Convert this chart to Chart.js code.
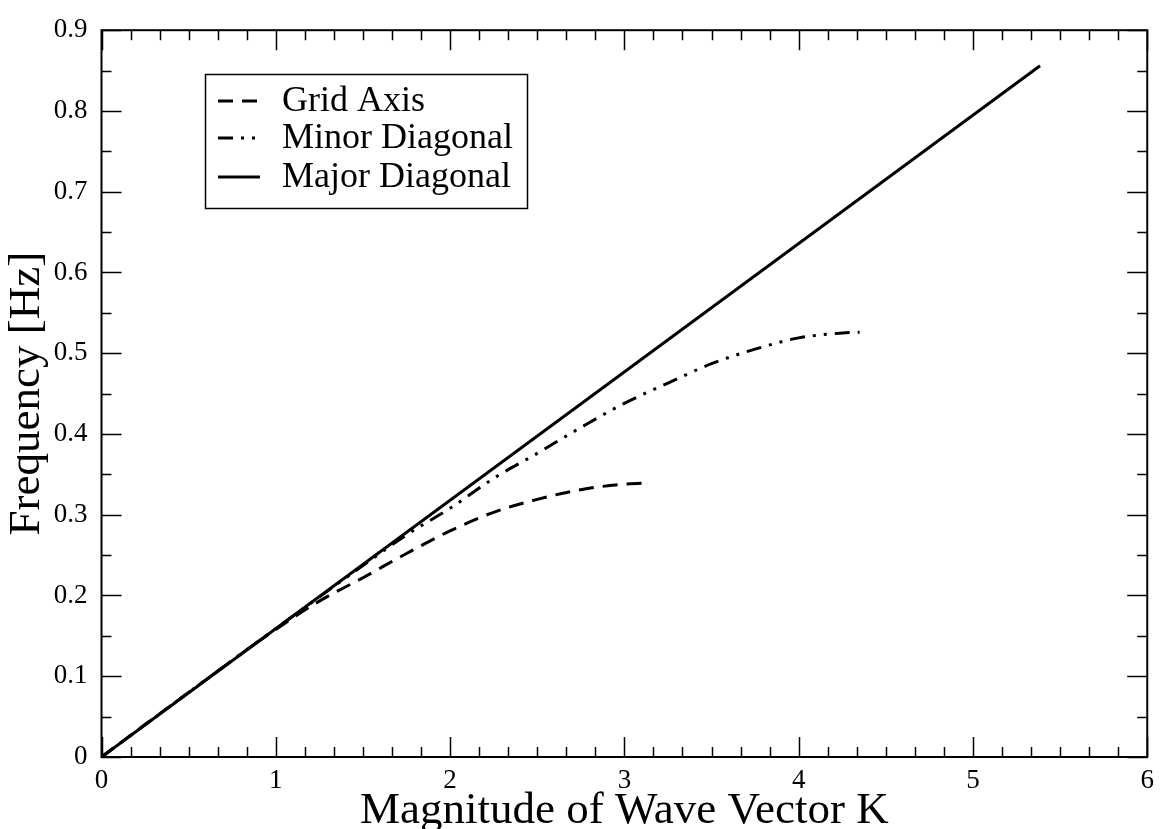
<!DOCTYPE html>
<html>
<head>
<meta charset="utf-8">
<script src="https://cdn.jsdelivr.net/npm/chart.js@4.4.1/dist/chart.umd.min.js"></script>
<style>
  html, body { margin: 0; padding: 0; background: #fff; }
  #wrap { width: 1162px; height: 829px; }
</style>
</head>
<body>
<div id="wrap"><canvas id="dispersion" width="1162" height="829"></canvas></div>
<script>
// values
const gridK  = [0, 0.5, 1.0, 1.25, 1.5, 1.75, 2.0, 2.25, 2.5, 2.75, 3.0, 3.11];
const gridF  = [0, 0.080, 0.158, 0.193, 0.222, 0.252, 0.280, 0.303, 0.319, 0.331, 0.338, 0.339];

const minorK = [0, 0.5, 1.0, 1.5, 1.75, 2.0, 2.25, 2.5, 2.75, 3.0, 3.25, 3.5, 3.75, 4.0, 4.25, 4.35];
const minorF = [0, 0.080, 0.159, 0.237, 0.275, 0.308, 0.345, 0.376, 0.408, 0.438, 0.463, 0.487, 0.505, 0.519, 0.525, 0.526];

const majorK = [0, 5.385];
const majorF = [0, 0.856];

const seriesNames = ['Grid Axis', 'Minor Diagonal', 'Major Diagonal'];
const xTickValues = [0, 1, 2, 3, 4, 5, 6];
const yTickValues = [0, 0.1, 0.2, 0.3, 0.4, 0.5, 0.6, 0.7, 0.8, 0.9];

const serif = '"Liberation Serif", "Times New Roman", serif';

function toPoints(xs, ys) {
  return xs.map((x, i) => ({ x: x, y: ys[i] }));
}

// frame + inward ticks on all four sides (xmgrace style)
const frameTicks = {
  id: 'frameTicks',
  afterDraw(chart) {
    const ctx = chart.ctx;
    const a = chart.chartArea;
    const xs = chart.scales.x, ys = chart.scales.y;
    ctx.save();
    ctx.strokeStyle = '#000';
    ctx.lineWidth = 2;
    ctx.strokeRect(a.left, a.top, a.right - a.left, a.bottom - a.top);
    ctx.lineWidth = 1.5;
    ctx.beginPath();
    // x ticks: majors every 1, 5 minors in between
    for (let i = 0; i <= 36; i++) {
      const px = Math.round(xs.getPixelForValue(i / 6)) + 0.5;
      const len = i % 6 === 0 ? 20 : 10;
      ctx.moveTo(px, a.bottom); ctx.lineTo(px, a.bottom - len);
      ctx.moveTo(px, a.top); ctx.lineTo(px, a.top + len);
    }
    // y ticks: majors every 0.1, one minor in between
    for (let j = 0; j <= 18; j++) {
      const py = Math.round(ys.getPixelForValue(j * 0.05)) + 0.5;
      const len = j % 2 === 0 ? 20 : 10;
      ctx.moveTo(a.left, py); ctx.lineTo(a.left + len, py);
      ctx.moveTo(a.right, py); ctx.lineTo(a.right - len, py);
    }
    ctx.stroke();
    ctx.restore();
  }
};

// boxed legend inside the plot
const boxLegend = {
  id: 'boxLegend',
  afterDraw(chart) {
    const ctx = chart.ctx;
    ctx.save();
    ctx.fillStyle = '#fff';
    ctx.fillRect(205, 74, 322, 134);
    ctx.strokeStyle = '#000';
    ctx.lineWidth = 1.5;
    ctx.strokeRect(205.5, 74.5, 322, 134);
    ctx.font = '36px ' + serif;
    ctx.textBaseline = 'middle';
    ctx.fillStyle = '#000';
    const rows = [101, 138, 177];
    chart.data.datasets.forEach((ds, i) => {
      ctx.beginPath();
      ctx.setLineDash(ds.borderDash || []);
      ctx.lineWidth = ds.borderWidth;
      ctx.moveTo(218, rows[i]);
      ctx.lineTo(260, rows[i]);
      ctx.stroke();
      ctx.setLineDash([]);
      ctx.fillText(ds.label, 282, rows[i] + 1);
    });
    ctx.restore();
  }
};

const chart = new Chart(document.getElementById('dispersion').getContext('2d'), {
  type: 'scatter',
  data: {
    datasets: [
      {
        label: seriesNames[0],
        data: toPoints(gridK, gridF),
        borderColor: '#000',
        borderWidth: 3,
        borderDash: [15, 9],
        showLine: true,
        pointRadius: 0,
        cubicInterpolationMode: 'monotone'
      },
      {
        label: seriesNames[1],
        data: toPoints(minorK, minorF),
        borderColor: '#000',
        borderWidth: 3,
        borderDash: [15, 8, 3, 8, 3, 8],
        showLine: true,
        pointRadius: 0,
        cubicInterpolationMode: 'monotone'
      },
      {
        label: seriesNames[2],
        data: toPoints(majorK, majorF),
        borderColor: '#000',
        borderWidth: 3,
        showLine: true,
        pointRadius: 0
      }
    ]
  },
  options: {
    responsive: false,
    animation: false,
    layout: { padding: { top: 22, right: 10, left: 0, bottom: 0 } },
    plugins: {
      legend: { display: false },
      tooltip: { enabled: false }
    },
    scales: {
      x: {
        type: 'linear',
        min: 0,
        max: 6,
        afterBuildTicks: s => { s.ticks = xTickValues.map(v => ({ value: v })); },
        afterFit: s => { s.height = 72; },
        grid: { display: false, drawTicks: false },
        border: { display: false },
        ticks: {
          color: '#000',
          padding: 8,
          maxRotation: 0,
          font: { family: serif, size: 27 }
        },
        title: {
          display: true,
          text: 'Magnitude of Wave Vector K',
          color: '#000',
          padding: { top: 0, bottom: 0 },
          font: { family: serif, size: 45, lineHeight: 0.8 }
        }
      },
      y: {
        type: 'linear',
        min: 0,
        max: 0.9,
        afterBuildTicks: s => { s.ticks = yTickValues.map(v => ({ value: v })); },
        afterFit: s => { s.width = 101.5; },
        grid: { display: false, drawTicks: false },
        border: { display: false },
        ticks: {
          color: '#000',
          padding: 14,
          font: { family: serif, size: 27 },
          callback: v => String(Math.round(v * 10) / 10)
        },
        title: {
          display: true,
          text: 'Frequency [Hz]',
          color: '#000',
          padding: { top: 9, bottom: 0 },
          font: { family: serif, size: 45, lineHeight: 0.8 }
        }
      }
    }
  },
  plugins: [frameTicks, boxLegend]
});
</script>
</body>
</html>
